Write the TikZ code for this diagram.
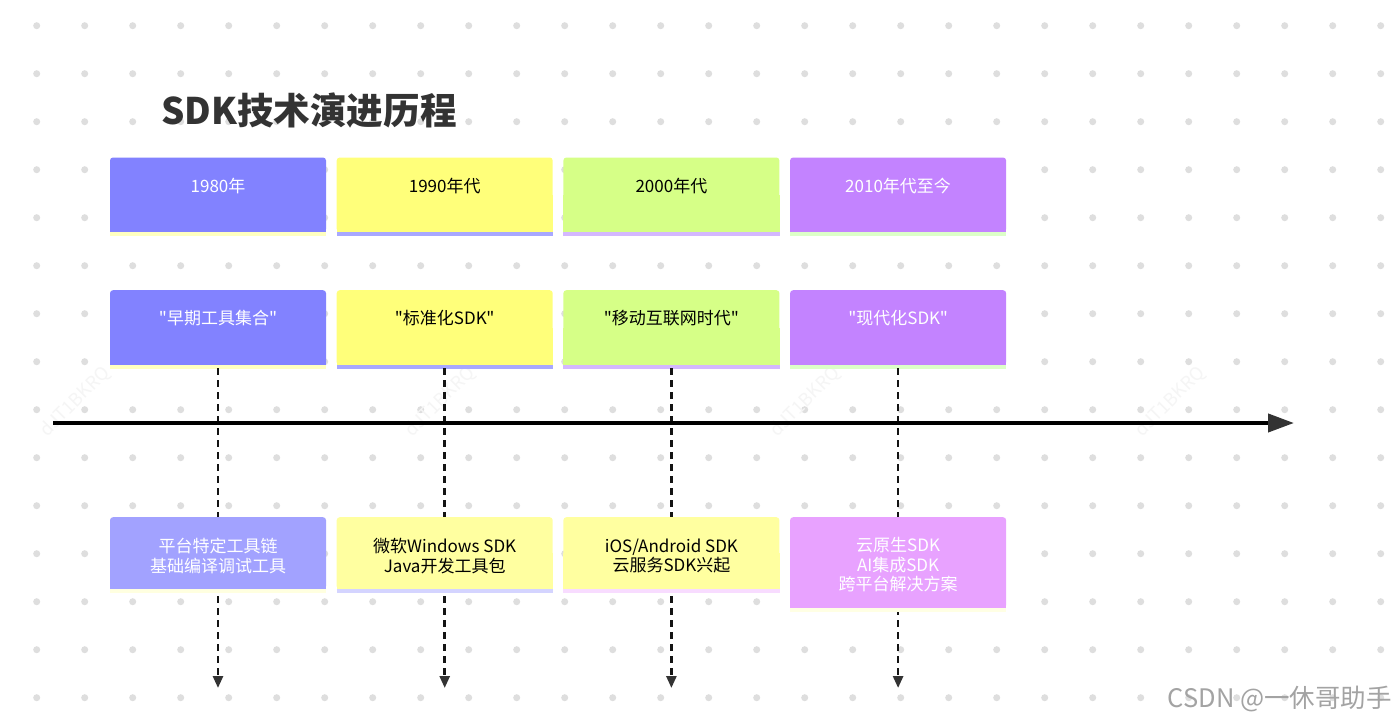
\documentclass[tikz,border=0pt]{standalone}
\usepackage{fontspec}
\newfontfamily\cjk{Noto Sans CJK SC}
\usetikzlibrary{arrows.meta}
\definecolor{dotc}{HTML}{DEDEDE}
\definecolor{titlec}{HTML}{333333}
\definecolor{cA}{HTML}{8282FF}
\definecolor{cB}{HTML}{FFFF7A}
\definecolor{cC}{HTML}{D6FF87}
\definecolor{cD}{HTML}{C383FF}
\definecolor{sA}{HTML}{FFFFC0}
\definecolor{sB}{HTML}{A8A8FF}
\definecolor{sC}{HTML}{D4B8FF}
\definecolor{sD}{HTML}{DCFFC8}
\definecolor{dA}{HTML}{A2A2FF}
\definecolor{dB}{HTML}{FFFFA0}
\definecolor{dC}{HTML}{FFFFA0}
\definecolor{dD}{HTML}{E8A2FF}
\definecolor{tA}{HTML}{FFFFE0}
\definecolor{tB}{HTML}{D4D4FF}
\definecolor{tC}{HTML}{F8DCFF}
\definecolor{tD}{HTML}{FFFFE4}
\tikzset{
  boxnode/.style={rounded corners=3pt, inner sep=0pt, minimum width=216pt, anchor=north},
  lbl/.style={font=\cjk\fontsize{17}{19.5}\selectfont, align=center, inner sep=0pt},
  wtxt/.style={lbl, text=white},
  btxt/.style={lbl, text=black},
  dashline/.style={line width=2.6pt, draw=black!92, dash pattern=on 7pt off 5pt, -{Triangle[length=12pt,width=10pt,color=black!80]}},
  axisline/.style={line width=4pt, draw=black, -{Triangle[length=26pt,width=18pt,color=black!80]}},
  wmark/.style={font=\cjk\fontsize{18}{18}\selectfont, text=black!4, rotate=45, inner sep=0pt},
}
\newcommand{\tlbox}[6]{% name, cx, top, height, fill, stripe
  \node[boxnode, fill=#5, minimum height=#4pt] (#1) at (#2,#3) {};
  \fill[#5] (#1.west) rectangle (#1.south east);
  \fill[#6] (#1.south west) rectangle ([yshift=-3.5pt]#1.south east);
}
\begin{document}
\begin{tikzpicture}[x=1pt,y=-1pt]
\useasboundingbox (0,0) rectangle (1400,726);
\fill[white] (0,0) rectangle (1400,726);
% dot grid
\foreach \i in {0,...,28}{
  \foreach \j in {0,...,14}{
    \fill[dotc] (36.7+48*\i, 25.7+48*\j) circle (3.5pt);
  }
}
% faint watermarks
\node[wmark] (wm1) at (75,402) {dJT1BKRQ};
\node[wmark] (wm2) at (440,402) {dJT1BKRQ};
\node[wmark] (wm3) at (805,402) {dJT1BKRQ};
\node[wmark] (wm4) at (1170,402) {dJT1BKRQ};
% title
\node[anchor=west, inner sep=0pt, text=titlec, font=\cjk\bfseries\fontsize{36.6}{40}\selectfont] (title) at (161,110) {SDK技术演进历程};
% row 1
\tlbox{y1}{218}{157.3}{74.5}{cA}{sA}
\tlbox{y2}{444.7}{157.3}{74.5}{cB}{sB}
\tlbox{y3}{671.4}{157.3}{74.5}{cC}{sC}
\tlbox{y4}{898.1}{157.3}{74.5}{cD}{sD}
\node[wtxt] (ty1) at (218,186) {1980年};
\node[btxt] (ty2) at (444.7,186) {1990年代};
\node[btxt] (ty3) at (671.4,186) {2000年代};
\node[wtxt] (ty4) at (898.1,186) {2010年代至今};
% row 2
\tlbox{p1}{218}{290}{75}{cA}{sA}
\tlbox{p2}{444.7}{290}{75}{cB}{sB}
\tlbox{p3}{671.4}{290}{75}{cC}{sC}
\tlbox{p4}{898.1}{290}{75}{cD}{sD}
\node[wtxt] (tp1) at (218,318.5) {"早期工具集合"};
\node[btxt] (tp2) at (444.7,318.5) {"标准化SDK"};
\node[btxt] (tp3) at (671.4,318.5) {"移动互联网时代"};
\node[wtxt] (tp4) at (898.1,318.5) {"现代化SDK"};
% dashed connectors
\coordinate (e1) at (218,688);
\coordinate (e2) at (444.7,688);
\coordinate (e3) at (671.4,688);
\coordinate (e4) at (898.1,688);
\draw[dashline] ([yshift=-3pt]p1.south) -- (e1);
\draw[dashline] ([yshift=-3pt]p2.south) -- (e2);
\draw[dashline] ([yshift=-3pt]p3.south) -- (e3);
\draw[dashline] ([yshift=-3pt]p4.south) -- (e4);
% axis
\coordinate (axs) at (53,423);
\coordinate (axe) at (1294,423);
\draw[axisline] (axs) -- (axe);
% row 3
\tlbox{d1}{218}{517}{72}{dA}{tA}
\tlbox{d2}{444.7}{517}{72}{dB}{tB}
\tlbox{d3}{671.4}{517}{72}{dC}{tC}
\tlbox{d4}{898.1}{517}{91}{dD}{tD}
\node[wtxt] (td1) at (218,556) {平台特定工具链\\基础编译调试工具};
\node[btxt] (td2) at (444.7,556) {微软Windows SDK\\Java开发工具包};
\node[btxt] (td3) at (671.4,556) {iOS/Android SDK\\云服务SDK兴起};
\node[wtxt] (td4) at (898.1,565) {云原生SDK\\AI集成SDK\\跨平台解决方案};
% CSDN watermark
\node[anchor=east, inner sep=0pt, text=black!36, font=\cjk\fontsize{25.5}{28}\selectfont] (csdn) at (1392,699) {CSDN @一休哥助手};
\end{tikzpicture}
\end{document}
